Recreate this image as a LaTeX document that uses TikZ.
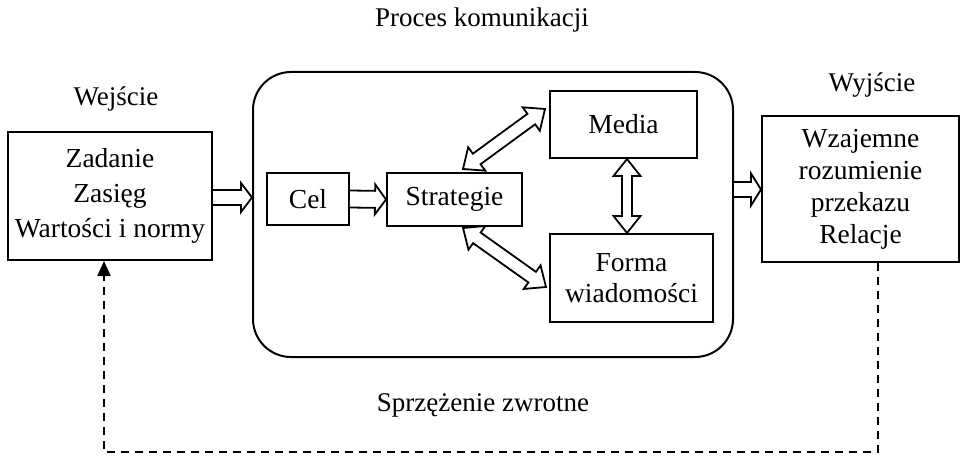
\documentclass[tikz,border=0pt]{standalone}
\usepackage{fontspec}
\setmainfont{Liberation Serif}
\usetikzlibrary{calc,arrows.meta}
\tikzset{
  box/.style={draw, line width=2pt, inner sep=0pt, align=center, font=\fontsize{27.5}{33}\selectfont},
  lbl/.style={inner sep=0pt, anchor=base, font=\fontsize{27}{33}\selectfont},
  hollow/.style={draw, fill=white, line width=1.8pt, line join=miter},
  fb/.style={line width=2pt, dash pattern=on 8pt off 6pt, -{Triangle[length=15pt,width=13pt]}}
}
% single hollow arrow: #1 shaft half width, #2 head half width, #3 head length, #4 from, #5 to
\newcommand\hollowone[5]{%
  \path (#4) coordinate (ha) (#5) coordinate (hb);
  \path ($(hb)!#3!(ha)$) coordinate (hm);
  \draw[hollow] ($(ha)!#1!90:(hb)$) -- ($(hm)!#1!90:(hb)$) -- ($(hm)!#2!90:(hb)$) -- (hb)
     -- ($(hm)!#2!-90:(hb)$) -- ($(hm)!#1!-90:(hb)$) -- ($(ha)!#1!-90:(hb)$);
}
% double hollow arrow
\newcommand\hollowtwo[5]{%
  \path (#4) coordinate (ha) (#5) coordinate (hb);
  \path ($(ha)!#3!(hb)$) coordinate (hma) ($(hb)!#3!(ha)$) coordinate (hmb);
  \draw[hollow] (ha) -- ($(hma)!#2!90:(hb)$) -- ($(hma)!#1!90:(hb)$) -- ($(hmb)!#1!90:(hb)$)
     -- ($(hmb)!#2!90:(hb)$) -- (hb) -- ($(hmb)!#2!-90:(hb)$) -- ($(hmb)!#1!-90:(hb)$)
     -- ($(hma)!#1!-90:(hb)$) -- ($(hma)!#2!-90:(hb)$) -- cycle;
}
\begin{document}
\begin{tikzpicture}[x=1pt,y=-1pt]
\useasboundingbox (0,0) rectangle (960,457);

% labels
\node[lbl] (title) at (482,27) {Proces komunikacji};
\node[lbl] (wej) at (116,106) {Wejście};
\node[lbl] (wyj) at (872,92) {Wyjście};
\node[lbl] (fbl) at (483,411) {Sprzężenie zwrotne};

% boxes
\node[box, minimum width=204pt, minimum height=128pt,
      font=\fontsize{27.5}{35}\selectfont] (in) at (110,196)
      {Zadanie\\Zasięg\\Wartości i normy};
\node[box, minimum width=480pt, minimum height=285pt, rounded corners=38pt] (proc) at (493,214.5) {};
\node[box, minimum width=197pt, minimum height=146pt,
      font=\fontsize{27.5}{32}\selectfont] (out) at (860.5,189)
      {Wzajemne\\rozumienie\\przekazu\\Relacje};
\node[box, minimum width=82pt, minimum height=52pt] (cel) at (308,199) {Cel};
\node[box, minimum width=135pt, minimum height=53pt] (str) at (454.5,199.5) {Strategie};
\node[box, minimum width=147pt, minimum height=67pt] (media) at (623.5,124.5) {Media};
\node[box, minimum width=163pt, minimum height=88pt,
      font=\fontsize{27.5}{31}\selectfont] (forma) at (631.5,278) {Forma\\wiadomości};

% hollow arrows
\hollowone{7.5pt}{14.5pt}{11pt}{$(in.east)+(0,1.5)$}{$(in.east -| proc.west)+(0,1.5)$}
\hollowone{8.5pt}{15pt}{11pt}{cel.east}{str.west}
\hollowone{7.5pt}{16pt}{10pt}{$(out.west -| proc.east)+(0,0.5)$}{$(out.west)+(0,0.5)$}
\hollowtwo{5pt}{13.5pt}{17pt}{$(media.south)+(3.5,0)$}{$(media.south |- forma.north)+(3.5,0)$}
\hollowtwo{6.5pt}{14.5pt}{17pt}{$(str.north)+(8.5,-3)$}{$(media.west)+(-4,-15.5)$}
\hollowtwo{6.5pt}{14.5pt}{17pt}{$(str.south)+(8.5,1)$}{$(forma.west)+(-3,9)$}

% feedback
\coordinate (fo) at ($(out.south)+(17.5,0)$);
\coordinate (fi) at ($(in.south)+(-6,0)$);
\coordinate (fbot) at (0,452);
\draw[fb] (fo) -- (fo |- fbot) -- (fi |- fbot) -- (fi);
\end{tikzpicture}
\end{document}
